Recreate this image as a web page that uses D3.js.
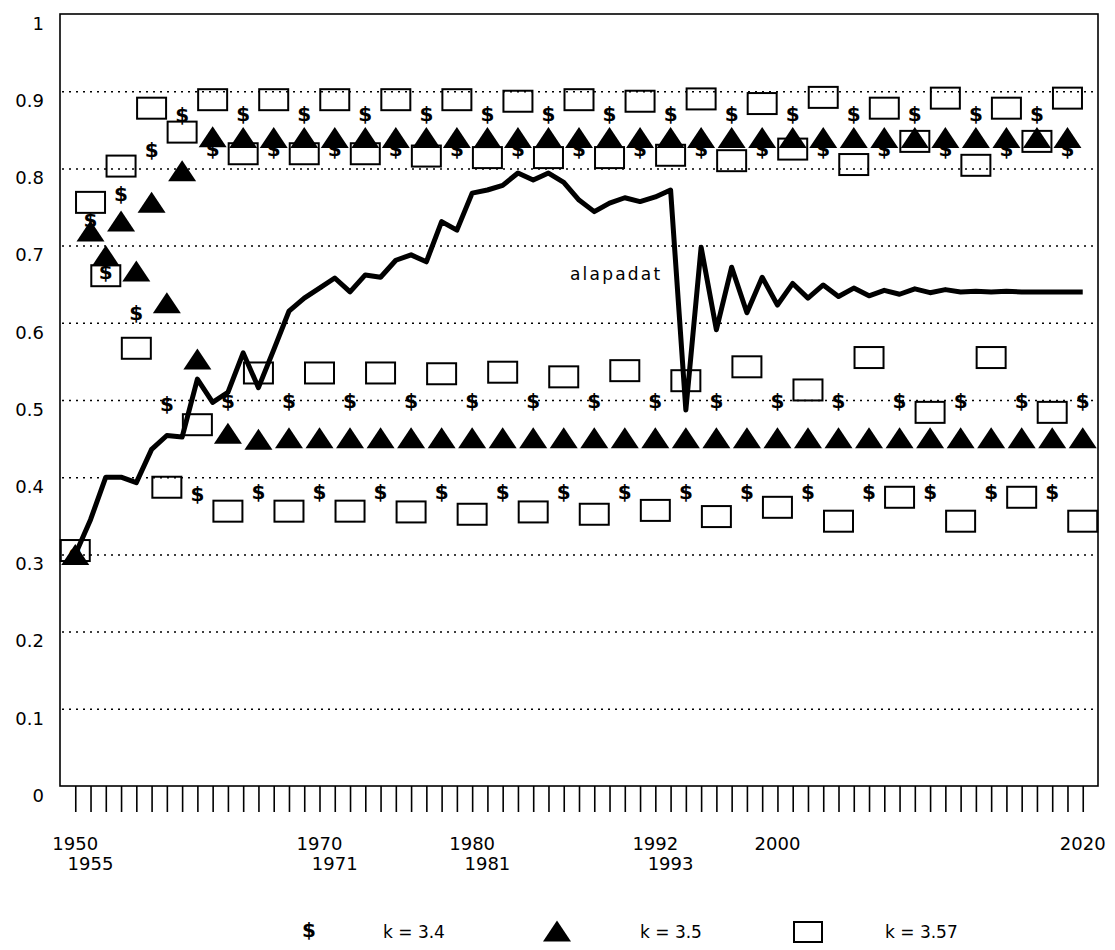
<!DOCTYPE html>
<html>
<head>
<meta charset="utf-8">
<script src="https://cdn.jsdelivr.net/npm/d3@7"></script>
<style>
  body { margin: 0; background: #fff; }
  svg { display: block; }
  text { font-family: "DejaVu Sans", sans-serif; fill: #000; }
</style>
</head>
<body>
<svg width="1115" height="950"></svg>
<script>
// categories on the x axis (1950, then 1955 onwards)
const years = [1950, 1955, 1956, 1957, 1958, 1959, 1960, 1961, 1962, 1963, 1964,
  1965, 1966, 1967, 1968, 1969, 1970, 1971, 1972, 1973, 1974, 1975, 1976, 1977,
  1978, 1979, 1980, 1981, 1982, 1983, 1984, 1985, 1986, 1987, 1988, 1989, 1990,
  1991, 1992, 1993, 1994, 1995, 1996, 1997, 1998, 1999, 2000, 2001, 2002, 2003,
  2004, 2005, 2006, 2007, 2008, 2009, 2010, 2011, 2012, 2013, 2014, 2015, 2016,
  2017, 2018, 2019, 2020];

// labelled years and the row they sit in
const yearLabels = [[1950, 0], [1955, 1], [1970, 0], [1971, 1], [1980, 0], [1981, 1],
  [1992, 0], [1993, 1], [2000, 0], [2020, 0]];

const yTicks = [0, 0.1, 0.2, 0.3, 0.4, 0.5, 0.6, 0.7, 0.8, 0.9, 1];

const alapadat = [0.300, 0.345, 0.400, 0.400, 0.393, 0.436, 0.454, 0.452, 0.527, 0.497,
  0.510, 0.561, 0.516, 0.565, 0.615, 0.632, 0.645, 0.658, 0.640, 0.662,
  0.659, 0.681, 0.688, 0.679, 0.731, 0.720, 0.768, 0.772, 0.778, 0.794,
  0.785, 0.794, 0.782, 0.759, 0.744, 0.755, 0.762, 0.757, 0.763, 0.772,
  0.487, 0.698, 0.591, 0.672, 0.613, 0.659, 0.623, 0.651, 0.632, 0.649,
  0.634, 0.645, 0.635, 0.642, 0.637, 0.644, 0.639, 0.643, 0.640, 0.641,
  0.640, 0.641, 0.640, 0.640, 0.640, 0.640, 0.640];

// k = 3.4
const k34 = [0.300, 0.734, 0.666, 0.767, 0.613, 0.824, 0.495, 0.870, 0.379, 0.825,
  0.499, 0.871, 0.381, 0.825, 0.499, 0.871, 0.381, 0.825, 0.499, 0.871,
  0.381, 0.825, 0.499, 0.871, 0.381, 0.825, 0.499, 0.871, 0.381, 0.825,
  0.499, 0.871, 0.381, 0.825, 0.499, 0.871, 0.381, 0.825, 0.499, 0.871,
  0.381, 0.825, 0.499, 0.871, 0.381, 0.825, 0.499, 0.871, 0.381, 0.825,
  0.499, 0.871, 0.381, 0.825, 0.499, 0.871, 0.381, 0.825, 0.499, 0.871,
  0.381, 0.825, 0.499, 0.871, 0.381, 0.825, 0.499];

// k = 3.5
const k35 = [0.300, 0.719, 0.687, 0.732, 0.667, 0.756, 0.626, 0.797, 0.553, 0.841,
  0.457, 0.840, 0.449, 0.840, 0.451, 0.840, 0.451, 0.840, 0.451, 0.840,
  0.451, 0.840, 0.451, 0.840, 0.451, 0.840, 0.451, 0.840, 0.451, 0.840,
  0.451, 0.840, 0.451, 0.840, 0.451, 0.840, 0.451, 0.840, 0.451, 0.840,
  0.451, 0.840, 0.451, 0.840, 0.451, 0.840, 0.451, 0.840, 0.451, 0.840,
  0.451, 0.840, 0.451, 0.840, 0.451, 0.840, 0.451, 0.840, 0.451, 0.840,
  0.451, 0.840, 0.451, 0.840, 0.451, 0.840, 0.451];

// k = 3.57
const k357 = [0.305, 0.756, 0.661, 0.803, 0.567, 0.878, 0.387, 0.847, 0.468, 0.889,
  0.356, 0.819, 0.535, 0.889, 0.356, 0.819, 0.535, 0.889, 0.356, 0.819,
  0.535, 0.889, 0.355, 0.816, 0.534, 0.889, 0.352, 0.814, 0.536, 0.887,
  0.355, 0.814, 0.530, 0.889, 0.352, 0.814, 0.538, 0.887, 0.357, 0.817,
  0.525, 0.890, 0.349, 0.810, 0.543, 0.884, 0.361, 0.825, 0.513, 0.892,
  0.343, 0.805, 0.555, 0.878, 0.374, 0.835, 0.484, 0.891, 0.343, 0.804,
  0.555, 0.878, 0.374, 0.835, 0.484, 0.891, 0.343];

const svg = d3.select("svg"),
    margin = {top: 14, right: 17, bottom: 164, left: 60},
    width = +svg.attr("width") - margin.left - margin.right,
    height = +svg.attr("height") - margin.top - margin.bottom,
    g = svg.append("g").attr("transform", "translate(" + margin.left + "," + margin.top + ")");

const x = d3.scalePoint()
    .domain(years)
    .range([0, width])
    .padding(1);

const y = d3.scaleLinear()
    .domain([0, 1])
    .range([height, 0]);

// dotted grid lines
g.append("g")
    .attr("class", "grid")
    .call(d3.axisLeft(y).tickValues(yTicks.filter(function(d) { return d > 0 && d < 1; }))
      .tickSize(-width + 5).tickFormat(""))
    .call(function(a) {
      a.select(".domain").remove();
      a.selectAll("line").attr("transform", "translate(2,0)")
        .attr("stroke", "#000").attr("stroke-width", 1.5).attr("stroke-dasharray", "2,5");
    });

// y labels hang below their line
g.append("g")
    .call(d3.axisLeft(y).tickValues(yTicks).tickSize(0).tickPadding(16)
      .tickFormat(function(d) { return d === 0 || d === 1 ? String(d) : d.toFixed(1); }))
    .call(function(a) {
      a.select(".domain").remove();
      a.selectAll("text").attr("dy", "0.85em").style("font-size", "18px")
        .style("font-family", "'DejaVu Sans', sans-serif");
    });

// x ticks
g.append("g")
    .attr("transform", "translate(0," + height + ")")
    .call(d3.axisBottom(x).tickSize(26).tickFormat(""))
    .call(function(a) {
      a.select(".domain").remove();
      a.selectAll("line").attr("stroke", "#000").attr("stroke-width", 1.6);
    });

// staggered year labels
g.append("g").selectAll("text")
  .data(yearLabels)
  .enter().append("text")
    .attr("x", function(d) { return x(d[0]); })
    .attr("y", function(d) { return height + 64 + d[1] * 20; })
    .attr("text-anchor", "middle")
    .style("font-size", "18px")
    .text(function(d) { return d[0]; });

// frame
g.append("rect")
    .attr("width", width).attr("height", height)
    .attr("fill", "none").attr("stroke", "#000").attr("stroke-width", 1.6);

// k = 3.4 markers
g.append("g").selectAll("text")
  .data(k34)
  .enter().append("text")
    .attr("x", function(d, i) { return x(years[i]); })
    .attr("y", function(d) { return y(d); })
    .attr("dy", "0.36em")
    .attr("text-anchor", "middle")
    .style("font-weight", "bold")
    .style("font-size", "20px")
    .text("$");

function triPath(cx, cy) {
  return "M" + (cx - 14) + "," + (cy + 10.5) + "L" + cx + "," + (cy - 10.5) + "L" + (cx + 14) + "," + (cy + 10.5) + "Z";
}

// k = 3.5 markers
g.append("g").selectAll("path")
  .data(k35)
  .enter().append("path")
    .attr("d", function(d, i) { return triPath(x(years[i]), y(d)); })
    .attr("fill", "#000");

// k = 3.57 markers
g.append("g").selectAll("rect")
  .data(k357)
  .enter().append("rect")
    .attr("x", function(d, i) { return x(years[i]) - 14.5; })
    .attr("y", function(d) { return y(d) - 10.5; })
    .attr("width", 29).attr("height", 21)
    .attr("fill", "none").attr("stroke", "#000").attr("stroke-width", 2);

// base data line
const line = d3.line()
    .x(function(d, i) { return x(years[i]); })
    .y(function(d) { return y(d); });

g.append("path")
    .datum(alapadat)
    .attr("d", line)
    .attr("fill", "none")
    .attr("stroke", "#000")
    .attr("stroke-width", 5)
    .attr("stroke-linejoin", "round");

g.append("text")
    .attr("x", 510).attr("y", 266)
    .style("font-size", "17px")
    .style("letter-spacing", "2.2px")
    .text("alapadat");

// legend
const legend = svg.append("g").attr("transform", "translate(0,930)");
legend.append("text").attr("x", 309).attr("y", 0).attr("dy", "0.36em")
    .attr("text-anchor", "middle").style("font-weight", "bold")
    .style("font-size", "20px").text("$");
legend.append("text").attr("x", 383).attr("y", 8).style("font-size", "17px").text("k = 3.4");
legend.append("path").attr("d", triPath(557, 1)).attr("fill", "#000");
legend.append("text").attr("x", 640).attr("y", 8).style("font-size", "17px").text("k = 3.5");
legend.append("rect").attr("x", 794).attr("y", -8).attr("width", 28).attr("height", 20)
    .attr("fill", "none").attr("stroke", "#000").attr("stroke-width", 2);
legend.append("text").attr("x", 885).attr("y", 8).style("font-size", "17px").text("k = 3.57");
</script>
</body>
</html>
